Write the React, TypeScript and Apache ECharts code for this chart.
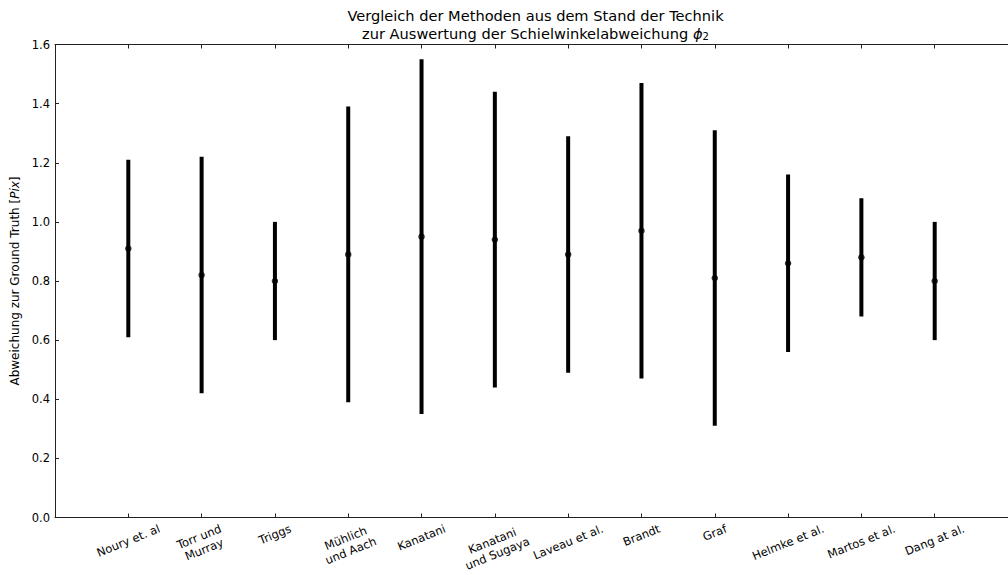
import React, { useEffect, useRef } from "react";
import * as echarts from "echarts";

const methods = [
  "Noury et. al",
  "Torr und\nMurray",
  "Triggs",
  "Mühlich\nund Aach",
  "Kanatani",
  "Kanatani\nund Sugaya",
  "Laveau et al.",
  "Brandt",
  "Graf",
  "Helmke et al.",
  "Martos et al.",
  "Dang at al.",
];
const means = [0.91, 0.82, 0.8, 0.89, 0.95, 0.94, 0.89, 0.97, 0.81, 0.86, 0.88, 0.8];
const errors = [0.3, 0.4, 0.2, 0.5, 0.6, 0.5, 0.4, 0.5, 0.5, 0.3, 0.2, 0.2];
const yTicks = [0, 0.2, 0.4, 0.6, 0.8, 1.0, 1.2, 1.4, 1.6];

const FONT = '"DejaVu Sans", "Liberation Sans", sans-serif';
const LABEL_SIZE = 11.5;
const YLABEL_SIZE = 11.5;
const TITLE_SIZE = 14.6;
const LINE_H = 13.5;
const ROT = (22 * Math.PI) / 180;

function measure(text: string): number {
  const c = document.createElement("canvas").getContext("2d");
  if (!c) return text.length * 7;
  c.font = `${LABEL_SIZE}px "DejaVu Sans"`;
  return Math.max(...text.split("\n").map((l) => c.measureText(l).width));
}

export default function App() {
  const ref = useRef<HTMLDivElement>(null);
  useEffect(() => {
    if (!ref.current) return;
    const chart = echarts.init(ref.current, undefined, { renderer: "svg" });
    const axisCommon = {
      type: "value",
      min: -1,
      max: 12,
      interval: 1,
      splitLine: { show: false },
      axisLine: { show: true, onZero: false, lineStyle: { color: "#222", width: 1 } },
      axisTick: { show: true, inside: true, length: 4, lineStyle: { color: "#222" } },
      axisLabel: { show: false },
    };
    chart.setOption({
      animation: false,
      backgroundColor: "#fff",
      grid: { left: 55, top: 44.5, width: 961, height: 473 },
      graphic: [
        {
          type: "text",
          x: 535.5,
          y: 15,
          style: {
            text: "Vergleich der Methoden aus dem Stand der Technik",
            font: `${TITLE_SIZE}px ${FONT}`,
            fill: "#000",
            align: "center",
            verticalAlign: "middle",
          },
        },
        {
          type: "text",
          x: 535.5,
          y: 33,
          style: {
            text: "zur Auswertung der Schielwinkelabweichung {i|ϕ}{s|2}",
            font: `${TITLE_SIZE}px ${FONT}`,
            fill: "#000",
            align: "center",
            verticalAlign: "middle",
            rich: {
              i: { fontStyle: "italic", fontSize: TITLE_SIZE, fontFamily: FONT, fill: "#000" },
              s: { fontSize: 10, fontFamily: FONT, fill: "#000", padding: [6, 0, 0, 0] },
            },
          },
        },
      ],
      xAxis: [
        { ...axisCommon, position: "bottom" },
        { ...axisCommon, position: "top" },
      ],
      yAxis: {
        type: "value",
        min: 0,
        max: 1.6,
        interval: 0.2,
        splitLine: { show: false },
        axisLine: { show: true, onZero: false, lineStyle: { color: "#222", width: 1 } },
        axisTick: { show: true, inside: true, length: 4, lineStyle: { color: "#222" } },
        axisLabel: {
          margin: 5,
          color: "#000",
          fontSize: YLABEL_SIZE,
          fontFamily: FONT,
          formatter: (v: number) => (yTicks.some((t) => Math.abs(t - v) < 1e-9) ? v.toFixed(1) : ""),
        },
        name: "Abweichung zur Ground Truth [{i|Pix}]",
        nameLocation: "middle",
        nameGap: 26,
        nameRotate: 90,
        nameTextStyle: {
          color: "#000",
          fontSize: 12,
          fontFamily: FONT,
          rich: { i: { fontStyle: "italic", fontSize: 12, fontFamily: FONT, color: "#000" } },
        },
      },
      series: [
        {
          type: "custom",
          name: "errors",
          data: methods.map((_, i) => [i, means[i], errors[i]]),
          encode: { x: 0, y: 1 },
          renderItem: (params: any, api: any) => {
            const x = api.value(0);
            const m = api.value(1);
            const e = api.value(2);
            const top = api.coord([x, m + e]);
            const bot = api.coord([x, m - e]);
            return {
              type: "line",
              shape: { x1: top[0], y1: top[1], x2: bot[0], y2: bot[1] },
              style: { stroke: "#000", lineWidth: 4, lineCap: "butt" },
            };
          },
          z: 2,
        },
        {
          type: "scatter",
          name: "means",
          data: methods.map((_, i) => [i, means[i]]),
          symbol: "circle",
          symbolSize: 6.5,
          itemStyle: { color: "#000" },
          z: 3,
        },
        {
          type: "custom",
          name: "labels",
          data: methods.map((_, i) => [i, 0]),
          encode: { x: 0, y: 1 },
          renderItem: (params: any, api: any) => {
            const idx = params.dataIndex;
            const text = methods[idx];
            const p = api.coord([api.value(0), 0]);
            const w = measure(text);
            const h = (text.split("\n").length - 1) * LINE_H + 12;
            const bboxH = w * Math.sin(ROT) + h * Math.cos(ROT);
            return {
              type: "text",
              x: p[0],
              y: p[1] + 5 + bboxH / 2,
              rotation: ROT,
              style: {
                text,
                font: `${LABEL_SIZE}px ${FONT}`,
                fill: "#000",
                align: "center",
                verticalAlign: "middle",
                lineHeight: LINE_H,
              },
            };
          },
          silent: true,
        },
      ],
    });
    return () => chart.dispose();
  }, []);
  return (
    <div
      ref={ref}
      style={{ position: "absolute", left: 0, top: 0, width: 1008, height: 575, background: "#fff" }}
    />
  );
}
